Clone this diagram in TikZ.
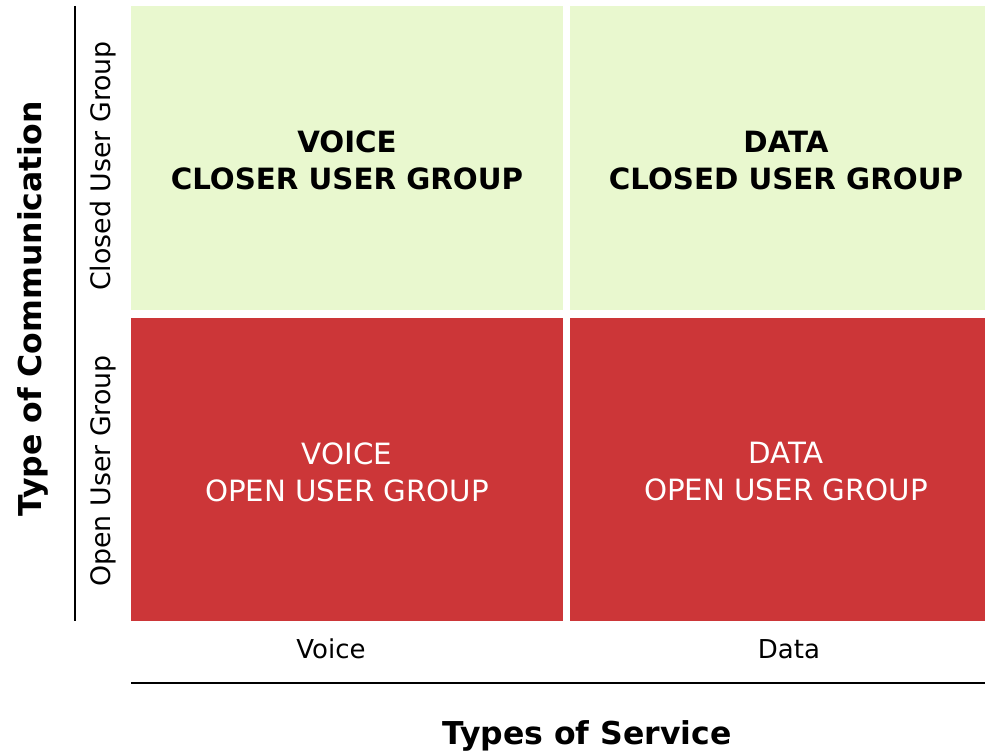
\documentclass[tikz,border=0pt]{standalone}
\usepackage{fontspec}
\setmainfont{DejaVu Sans}
\usepackage{tikz}
\usetikzlibrary{positioning}
\definecolor{cugreen}{HTML}{E9F8CF}
\definecolor{ugred}{HTML}{CC3638}

\begin{document}
\begin{tikzpicture}[
    x=1pt,y=-1pt,thick,
  cell/.style={rectangle,inner sep=0pt,draw=none},
  closedcell/.style={cell,fill=cugreen},
  opencell/.style={cell,fill=ugred},
  celltext/.style={align=center,inner sep=0pt,font=\fontsize{29.3}{37}\selectfont},
  axistitle/.style={inner sep=0pt,font=\fontsize{31.5}{36}\selectfont\bfseries},
  ticklabel/.style={inner sep=0pt,font=\fontsize{26}{30}\selectfont},
  axisline/.style={line width=2pt,black},
]
  \useasboundingbox (0,0) rectangle (985,754);

  % quadrants
  \node[closedcell,minimum width=432pt,minimum height=304pt] (vc) at (347,158) {};
  \node[closedcell,minimum width=415pt,minimum height=304pt] (dc) at (777.5,158) {};
  \node[opencell,minimum width=432pt,minimum height=303pt] (vo) at (347,469.5) {};
  \node[opencell,minimum width=415pt,minimum height=303pt] (do) at (777.5,469.5) {};

  \node[celltext,font=\fontsize{29.3}{37}\selectfont\bfseries] (vct) at (347,160.5) {VOICE\\CLOSER USER GROUP};
  \node[celltext,font=\fontsize{29.3}{37}\selectfont\bfseries] (dct) at (786,160.5) {DATA\\CLOSED USER GROUP};
  \node[celltext,white] (vot) at (347,472) {VOICE\\OPEN USER GROUP};
  \node[celltext,white] (dot) at (786,472) {DATA\\OPEN USER GROUP};

  % axes
  \coordinate (ytop) at (75,6);
  \coordinate (ybot) at (75,621);
  \coordinate (xl) at (131,683);
  \coordinate (xr) at (985,683);
  \draw[axisline] (ytop) -- (ybot);
  \draw[axisline] (xl) -- (xr);

  \node[ticklabel,rotate=90,font=\fontsize{26.8}{30}\selectfont] (cug) at (103,166) {Closed User Group};
  \node[ticklabel,rotate=90,font=\fontsize{26.8}{30}\selectfont] (oug) at (103,471) {Open User Group};
  \node[ticklabel] (vtick) at (331,649) {Voice};
  \node[ticklabel] (dtick) at (789,649) {Data};

  \node[axistitle,rotate=90] (ytitle) at (33,309) {Type of Communication};
  \node[axistitle] (xtitle) at (587,736) {Types of Service};
\end{tikzpicture}
\end{document}
